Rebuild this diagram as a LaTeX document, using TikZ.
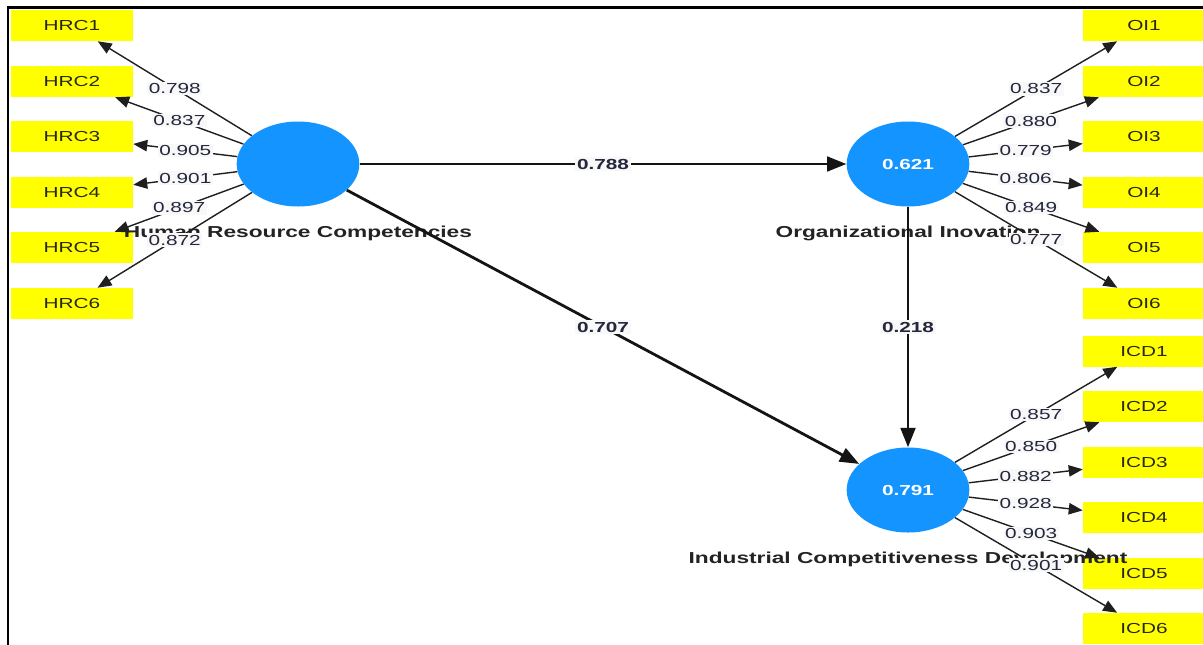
\documentclass[tikz,border=0pt]{standalone}
\usepackage{fontspec}
\newfontfamily\lsans[FakeStretch=1.43]{Liberation Sans}
\usetikzlibrary{shapes.geometric,arrows.meta}
\definecolor{lvblue}{RGB}{20,148,255}
\definecolor{indyel}{RGB}{255,255,0}
\definecolor{numcol}{RGB}{35,38,60}
\definecolor{lblbg}{RGB}{248,248,248}
\definecolor{boxtxt}{RGB}{40,40,20}
\definecolor{nametxt}{RGB}{35,35,35}
\begin{document}
\begin{tikzpicture}[x=0.75pt,y=-0.75pt,
  ind/.style={fill=indyel, minimum width=91.5pt, minimum height=23.25pt, inner sep=0pt,
    font=\lsans\fontsize{10.9pt}{12pt}\selectfont, text=boxtxt},
  lv/.style={ellipse, fill=lvblue, minimum width=92pt, minimum height=63.75pt, inner sep=0pt,
    text=white, font=\lsans\bfseries\fontsize{10.9pt}{12pt}\selectfont},
  lvname/.style={anchor=base, inner sep=0pt, font=\lsans\bfseries\fontsize{11.9pt}{13pt}\selectfont, text=nametxt},
  load/.style={draw=black!88, line width=1.05pt, -{Triangle[length=10.5pt,width=8.5pt]}},
  pathcoef/.style={draw=black!92, line width=2.1pt, -{Triangle[length=14.5pt,width=11pt]}},
  lbl/.style={midway, fill=lblbg, inner sep=1.2pt, text=numcol,
    font=\lsans\fontsize{10.9pt}{12pt}\selectfont},
  clbl/.style={midway, fill=lblbg, inner sep=1.5pt, text=numcol,
    font=\lsans\bfseries\fontsize{10.9pt}{12pt}\selectfont}
]
\useasboundingbox (0,0) rectangle (1203,644);
\fill[white] (0,0) rectangle (1203,644);
\draw[line width=1.7pt] (7.8,650) -- (7.8,7.4) -- (1210,7.4);

% indicators
\node[ind] (hrc1) at (72,25.5) {HRC1};
\node[ind] (hrc2) at (72,81.5) {HRC2};
\node[ind] (hrc3) at (72,136.5) {HRC3};
\node[ind] (hrc4) at (72,192.5) {HRC4};
\node[ind] (hrc5) at (72,247.5) {HRC5};
\node[ind] (hrc6) at (72,303.5) {HRC6};
\node[ind] (oi1) at (1144,25.5) {OI1};
\node[ind] (oi2) at (1144,81.5) {OI2};
\node[ind] (oi3) at (1144,136.5) {OI3};
\node[ind] (oi4) at (1144,192.5) {OI4};
\node[ind] (oi5) at (1144,247.5) {OI5};
\node[ind] (oi6) at (1144,303.5) {OI6};
\node[ind] (icd1) at (1144,351) {ICD1};
\node[ind] (icd2) at (1144,406.5) {ICD2};
\node[ind] (icd3) at (1144,462) {ICD3};
\node[ind] (icd4) at (1144,517.5) {ICD4};
\node[ind] (icd5) at (1144,573.5) {ICD5};
\node[ind] (icd6) at (1144,628.5) {ICD6};

% latent variables
\node[lv] (hrc) at (298,164) {};
\node[lv] (oi) at (908,164) {0.621};
\node[lv] (icd) at (908,490) {0.791};

\node[lvname] (hrcname) at (298,237.5) {Human Resource Competencies};
\node[lvname] (oiname) at (908,237.5) {Organizational Inovation};
\node[lvname] (icdname) at (908,563.5) {Industrial Competitiveness Development};

% structural paths
\draw[pathcoef] (hrc) -- (oi) node[clbl] {0.788};
\draw[pathcoef] (hrc) -- (icd) node[clbl] {0.707};
\draw[pathcoef] (oi) -- (icd) node[clbl] {0.218};

% loadings
\draw[load] (hrc) -- (hrc1) node[lbl] {0.798};
\draw[load] (hrc) -- (hrc2) node[lbl] {0.837};
\draw[load] (hrc) -- (hrc3) node[lbl] {0.905};
\draw[load] (hrc) -- (hrc4) node[lbl] {0.901};
\draw[load] (hrc) -- (hrc5) node[lbl] {0.897};
\draw[load] (hrc) -- (hrc6) node[lbl] {0.872};

\draw[load] (oi) -- (oi1) node[lbl] {0.837};
\draw[load] (oi) -- (oi2) node[lbl] {0.880};
\draw[load] (oi) -- (oi3) node[lbl] {0.779};
\draw[load] (oi) -- (oi4) node[lbl] {0.806};
\draw[load] (oi) -- (oi5) node[lbl] {0.849};
\draw[load] (oi) -- (oi6) node[lbl] {0.777};

\draw[load] (icd) -- (icd1) node[lbl] {0.857};
\draw[load] (icd) -- (icd2) node[lbl] {0.850};
\draw[load] (icd) -- (icd3) node[lbl] {0.882};
\draw[load] (icd) -- (icd4) node[lbl] {0.928};
\draw[load] (icd) -- (icd5) node[lbl] {0.903};
\draw[load] (icd) -- (icd6) node[lbl] {0.901};
\end{tikzpicture}
\end{document}
